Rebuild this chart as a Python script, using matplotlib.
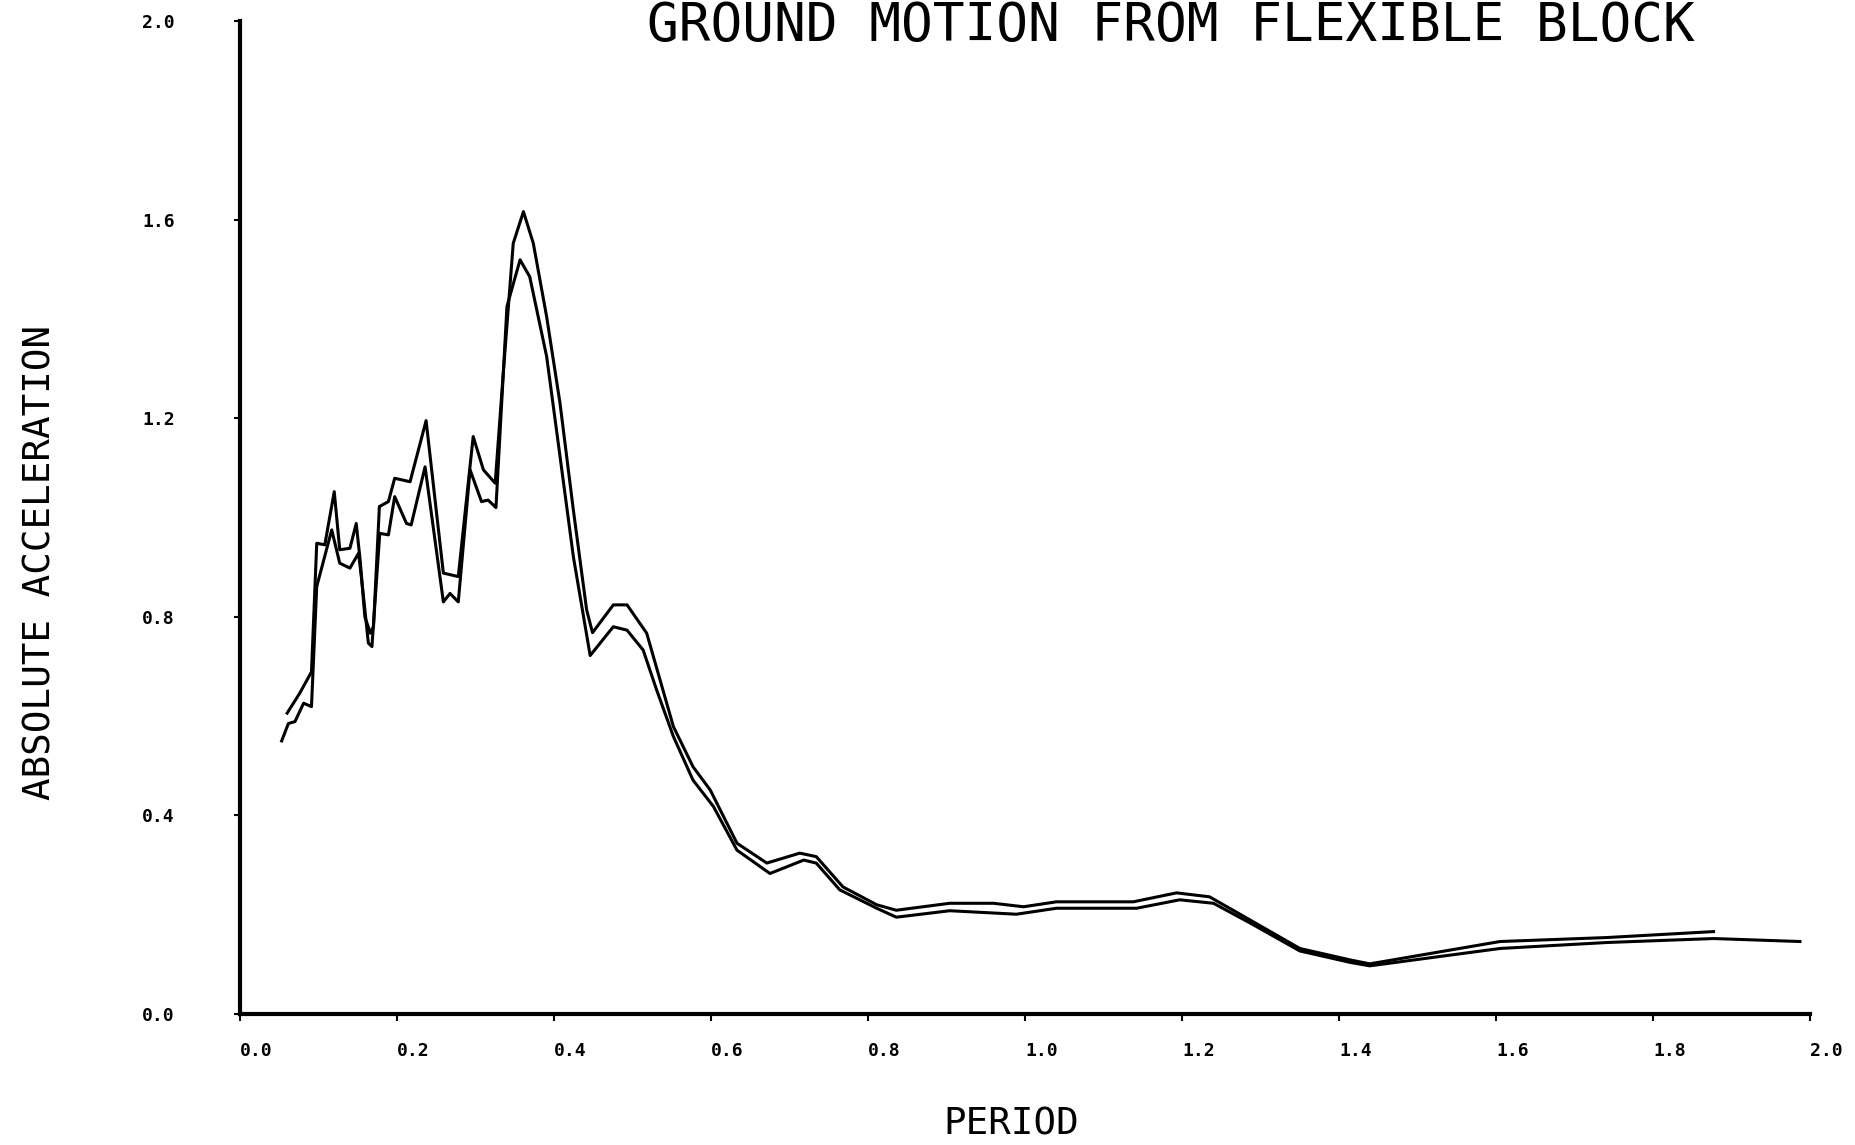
import matplotlib.pyplot as plt

# upper response curve (period, absolute acceleration)
upper_period = [0.060, 0.076, 0.091, 0.0977, 0.108, 0.120, 0.127, 0.140, 0.148, 0.153,
                0.159, 0.166, 0.170, 0.1775, 0.189, 0.197, 0.2166, 0.237, 0.259, 0.278,
                0.297, 0.310, 0.325, 0.335, 0.348, 0.361, 0.3736, 0.3906, 0.4076, 0.4246,
                0.4415, 0.449, 0.4755, 0.493, 0.518, 0.535, 0.552, 0.577, 0.599, 0.633,
                0.671, 0.713, 0.734, 0.768, 0.811, 0.836, 0.904, 0.960, 0.998, 1.040,
                1.138, 1.193, 1.235, 1.287, 1.350, 1.414, 1.439, 1.605, 1.741, 1.877]
upper_accel = [0.606, 0.646, 0.689, 0.948, 0.945, 1.052, 0.935, 0.938, 0.988, 0.914,
               0.800, 0.767, 0.780, 1.022, 1.032, 1.079, 1.072, 1.195, 0.888, 0.881,
               1.163, 1.096, 1.069, 1.284, 1.552, 1.616, 1.552, 1.404, 1.230, 1.015,
               0.814, 0.768, 0.824, 0.824, 0.767, 0.673, 0.579, 0.498, 0.451, 0.344,
               0.304, 0.324, 0.317, 0.256, 0.220, 0.209, 0.223, 0.223, 0.216, 0.226,
               0.226, 0.244, 0.236, 0.189, 0.132, 0.109, 0.101, 0.146, 0.154, 0.166]

# lower response curve
lower_period = [0.053, 0.0616, 0.070, 0.081, 0.091, 0.0977, 0.1168, 0.127, 0.140, 0.151,
                0.155, 0.1635, 0.168, 0.178, 0.189, 0.197, 0.212, 0.218, 0.2357, 0.259,
                0.2675, 0.278, 0.293, 0.3076, 0.316, 0.326, 0.340, 0.3567, 0.369, 0.3906,
                0.4076, 0.4246, 0.446, 0.4755, 0.493, 0.5135, 0.5306, 0.552, 0.577, 0.603,
                0.633, 0.675, 0.718, 0.734, 0.764, 0.811, 0.836, 0.904, 0.989, 1.040,
                1.142, 1.197, 1.240, 1.287, 1.350, 1.414, 1.439, 1.605, 1.741, 1.877, 1.987]
lower_accel = [0.550, 0.585, 0.589, 0.626, 0.619, 0.861, 0.975, 0.908, 0.898, 0.928,
               0.874, 0.747, 0.740, 0.968, 0.965, 1.042, 0.988, 0.985, 1.102, 0.830,
               0.847, 0.830, 1.096, 1.032, 1.035, 1.020, 1.425, 1.519, 1.485, 1.324,
               1.123, 0.921, 0.722, 0.780, 0.773, 0.733, 0.653, 0.559, 0.471, 0.418,
               0.330, 0.283, 0.310, 0.304, 0.250, 0.213, 0.195, 0.208, 0.201, 0.213,
               0.213, 0.230, 0.223, 0.183, 0.127, 0.104, 0.097, 0.132, 0.144, 0.152, 0.146]

x_ticks = [0.0, 0.2, 0.4, 0.6, 0.8, 1.0, 1.2, 1.4, 1.6, 1.8, 2.0]
y_ticks = [0.0, 0.4, 0.8, 1.2, 1.6, 2.0]

mono = 'DejaVu Sans Mono'

fig = plt.figure(figsize=(18.55, 11.45), dpi=100)
ax = fig.add_axes([0.1294, 0.1144, 0.8464, 0.8673])

ax.plot(upper_period, upper_accel, color='black', linewidth=2.2)
ax.plot(lower_period, lower_accel, color='black', linewidth=2.2)

ax.set_xlim(0, 2.0)
ax.set_ylim(0, 2.0)
ax.spines['top'].set_visible(False)
ax.spines['right'].set_visible(False)
ax.spines['left'].set_linewidth(3)
ax.spines['bottom'].set_linewidth(3)

ax.set_xticks(x_ticks)
ax.set_xticklabels(['{:.1f}'.format(v) for v in x_ticks], family=mono,
                   fontsize=13, fontweight='bold', ha='left')
ax.set_yticks(y_ticks)
ax.set_yticklabels(['{:.1f}'.format(v) for v in y_ticks], family=mono,
                   fontsize=13, fontweight='bold')
ax.tick_params(axis='x', direction='out', length=5, width=1.5, pad=15)
ax.tick_params(axis='y', direction='out', length=4, width=1.5, pad=43)

# title at the very top edge of the sheet
fig.text(0.6313, 0.964, 'GROUND MOTION FROM FLEXIBLE BLOCK', family=mono,
         fontsize=38, ha='center', va='baseline')
fig.text(0.0221, 0.509, 'ABSOLUTE ACCELERATION', family=mono, fontsize=27,
         rotation=90, ha='center', va='center')
fig.text(0.545, 0.0183, 'PERIOD', family=mono, fontsize=27,
         ha='center', va='center')

fig.savefig('out.png', dpi=100)
